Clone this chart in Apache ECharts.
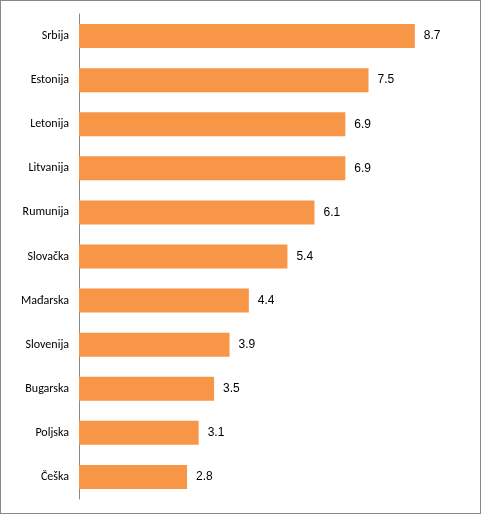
<!DOCTYPE html>
<html><head><meta charset="utf-8">
<script src="https://cdn.jsdelivr.net/npm/echarts@6/dist/echarts.min.js"></script>
<style>html,body{margin:0;padding:0;background:#fff}#c{width:479px;height:512px;border:1px solid #888}</style>
</head><body><div id="c"></div>
<script>
// kategorije odozgo nadole
var countries = ['Srbija','Estonija','Letonija','Litvanija','Rumunija','Slovačka','Mađarska','Slovenija','Bugarska','Poljska','Češka'];
var values = [8.7, 7.5, 6.9, 6.9, 6.1, 5.4, 4.4, 3.9, 3.5, 3.1, 2.8];

var chart = echarts.init(document.getElementById('c'));
chart.setOption({
  animation: false,
  grid: {left: 78, right: 15, top: 13, bottom: 14},
  xAxis: {type: 'value', min: 0, max: 10, show: false},
  yAxis: {
    type: 'category', inverse: true, data: countries,
    axisLine: {lineStyle: {color: '#888'}},
    axisTick: {show: false},
    axisLabel: {color: '#000', fontSize: 12, fontFamily: 'Calibri, Carlito, "Liberation Sans", sans-serif', margin: 10}
  },
  series: [{
    type: 'bar', data: values, barWidth: 24,
    itemStyle: {color: '#F79646'},
    label: {show: true, position: 'right', distance: 9, color: '#000', fontSize: 12,
      fontFamily: '"Liberation Sans", sans-serif', formatter: function (p) { return p.value.toFixed(1); }}
  }]
});
</script></body></html>
